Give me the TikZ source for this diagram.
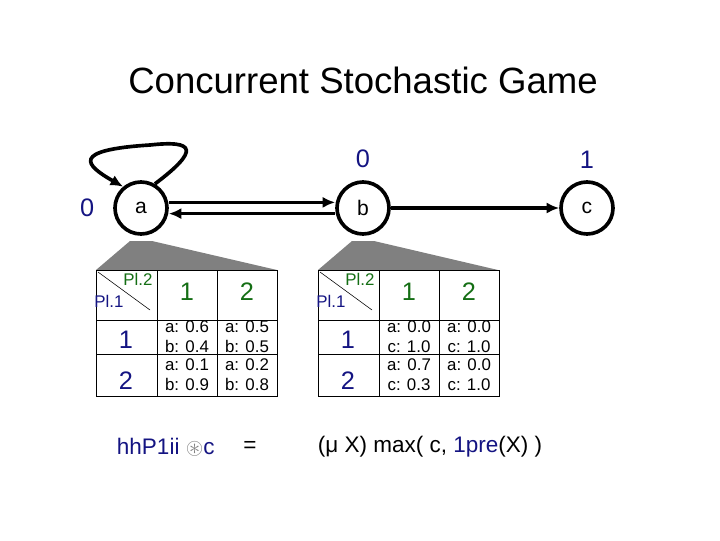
\documentclass[tikz,border=0pt]{standalone}
\usepackage{fontspec}
\setmainfont{Liberation Sans}
\usepackage{amssymb}
\usetikzlibrary{positioning,arrows.meta}
\definecolor{navy}{RGB}{20,20,130}
\definecolor{pgreen}{RGB}{20,110,20}
\begin{document}
\begin{tikzpicture}[x=0.025cm,y=-0.025cm,
	state/.style={circle,draw,line width=2.6pt,minimum size=52*0.025cm,inner sep=0pt,font=\fontsize{15}{15}\selectfont},
	val/.style={text=navy,font=\fontsize{18}{18}\selectfont},
	pl/.style={font=\fontsize{12}{12}\selectfont},
	cell/.style={font=\fontsize{12}{14}\selectfont,align=center},
	hd/.style={font=\fontsize{18}{18}\selectfont},
	edge/.style={line width=2.6pt,-{Latex[length=9pt,width=8pt]}}]
	\useasboundingbox (0,0) rectangle (720,540);
	\node[font=\fontsize{26}{26}\selectfont] (title) at (363,80) {Concurrent Stochastic Game};

	% Gray fans
	\fill[gray] (96,270) -- (130,241) -- (152,241) -- (277,270) -- cycle;
	\fill[gray] (318,270) -- (352,241) -- (374,241) -- (498,270) -- cycle;

	% States
	\node[state,fill=white] (a) at (141,208) {a};
	\node[state,fill=white] (b) at (363,208) {b};
	\node[state,fill=white] (c) at (587,208) {c};
	\node[val,left=10pt of a] (va) {0};
	\node[val,above=5pt of b] (vb) {0};
	\node[val,above=5pt of c] (vc) {1};

	% Transitions
	\draw[edge] (a.60) .. controls (200,150) and (195,140) .. (150,145) .. controls (70,150) and (85,165) .. (a.130);
	\draw[edge] ([yshift=4pt]a.east) -- ([yshift=4pt]b.west);
	\draw[edge] ([yshift=-4pt]b.west) -- ([yshift=-4pt]a.east);
	\draw[edge] (b) -- (c);

	% Tables
	\foreach \x/\s in {0/a,222/c}{
		\begin{scope}[xshift=\x*0.025cm]
			\draw (96,270) rectangle (277,396);
			\draw (157,270) -- (157,396) (217,270) -- (217,396);
			\draw (96,320) -- (277,320) (96,354) -- (277,354);
			\draw (98,272) -- (150,310);
			\node[pl,text=pgreen] at (138,279) {Pl.2};
			\node[pl,text=navy] at (109,301) {Pl.1};
			\node[hd,text=pgreen] at (187,292) {1};
			\node[hd,text=pgreen] at (247,292) {2};
			\node[hd,text=navy] at (126,340) {1};
			\node[hd,text=navy] at (126,381) {2};
		\end{scope}
	}
	\node[cell] (t11) at (187,337) {a: 0.6\\b: 0.4};
	\node[cell] (t12) at (247,337) {a: 0.5\\b: 0.5};
	\node[cell] (t21) at (187,375) {a: 0.1\\b: 0.9};
	\node[cell] (t22) at (247,375) {a: 0.2\\b: 0.8};
	\node[cell] (u11) at (409,337) {a: 0.0\\c: 1.0};
	\node[cell] (u12) at (469,337) {a: 0.0\\c: 1.0};
	\node[cell] (u21) at (409,375) {a: 0.7\\c: 0.3};
	\node[cell] (u22) at (469,375) {a: 0.0\\c: 1.0};

	% Formula
	\node[val,font=\fontsize{16}{16}\selectfont,anchor=west] (goal) at (112,447) {hhP1ii {\color{gray}$\circledast$}c};
	\node[font=\fontsize{16}{16}\selectfont] (eq) at (250,447) {=};
	\node[font=\fontsize{16}{16}\selectfont,anchor=west] (fix) at (313,447) {(μ X) max( c, {\color{navy}1pre}(X) )};
\end{tikzpicture}
\end{document}
